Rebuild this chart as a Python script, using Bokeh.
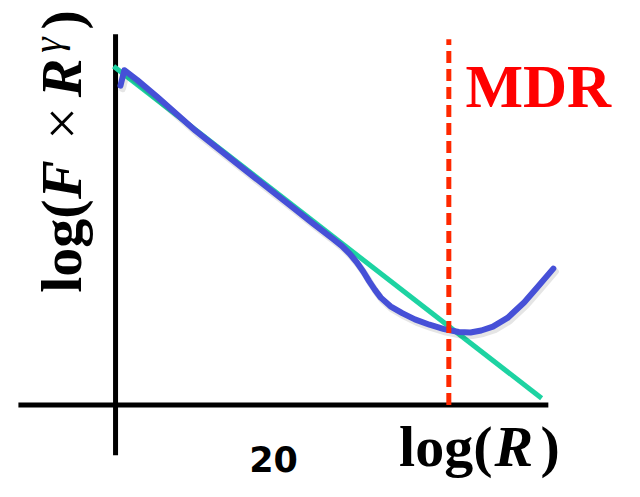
import numpy as np
from bokeh.plotting import figure
from bokeh.models import Range1d
from bokeh.core.properties import value
from bokeh.embed import file_html
from bokeh.resources import INLINE

# ---- data (x: log(R) units, y: log(F x R^gamma) units) ----
fit_x = [-0.25, 53.95]
fit_y = [35.0, 0.7]

curve_x = [0.62, 1.11, 2.72, 5.19, 10.12, 16.30, 22.47, 24.94, 27.41, 28.64,
           29.63, 30.49, 31.36, 32.10, 32.84, 33.58, 34.81, 36.30, 37.90,
           39.75, 41.60, 43.46, 44.94, 46.30, 47.78, 49.63, 51.73, 53.33, 55.43]
curve_y = [33.0, 34.6, 33.6, 31.9, 28.35, 24.35, 20.4, 18.8, 17.25, 16.45,
           15.65, 14.8, 13.8, 12.8, 11.9, 11.1, 10.2, 9.5, 8.85,
           8.3, 7.85, 7.55, 7.5, 7.7, 8.1, 9.0, 10.6, 12.1, 14.1]

mdr_x = 42.2
mdr_top = 37.8

xaxis_extent = [-12.3, 54.8]
yaxis_extent = [-5.2, 38.3]

tick_values = [20]
tick_labels = ["20"]

# ---- figure ----
W, H = 624, 481
x0, x1 = -14.568, 64.444
y0, y1 = -7.9, 41.8
kx = 640 / (x1 - x0)   # reference px per x unit
ky = 497 / (y1 - y0)   # reference px per y unit
sx = W / (x1 - x0)     # canvas px per x unit
sy = H / (y1 - y0)     # canvas px per y unit
BASE_FIX = 0.37        # baseline correction (em) for the svg text renderer

p = figure(width=W, height=H, x_range=Range1d(x0, x1), y_range=Range1d(y0, y1),
           output_backend="svg", toolbar_location=None, min_border=0)
p.axis.visible = False
p.grid.visible = False
p.outline_line_color = None
p.background_fill_color = "white"
p.border_fill_color = "white"

# axes as thick black lines
p.line(xaxis_extent, [0, 0], line_color="black", line_width=5)
p.line([0, 0], yaxis_extent, line_color="black", line_width=5)

# fit line
p.line(fit_x, fit_y, line_color="#1dd3a2", line_width=5)

# curve with soft shadow
p.line([v + 2 / sx for v in curve_x], [v - 3 / sy for v in curve_y],
       line_color="black", line_alpha=0.1, line_width=7, line_join="round", line_cap="round")
p.line(curve_x, curve_y, line_color="#4650d7", line_width=6, line_join="round", line_cap="round")

# MDR dashed line
p.line([mdr_x, mdr_x], [0, mdr_top], line_color="#ff2800", line_width=5, line_dash="12 6")

serif = value("Liberation Serif")


def htext(x, y, txt, size, style="bold", color="black", font=serif, align="left"):
    yy = y + BASE_FIX * size / sy
    p.text(x=[x], y=[yy], text=[txt], text_font=font, text_font_style=style,
           text_font_size=f"{size}px", text_color=color, text_align=align,
           text_baseline="alphabetic")


def vtext(x, y, txt, size, style="bold"):
    xx = x - BASE_FIX * size / sx
    p.text(x=[xx], y=[y], text=[txt], text_font=serif, text_font_style=style,
           text_font_size=f"{size}px", angle=np.pi / 2, text_align="left",
           text_baseline="alphabetic")


# MDR label
htext(mdr_x + 17 / kx, mdr_top - 72 / ky, "MDR", 61, color="#ff0000")

# tick label
for tv, tl in zip(tick_values, tick_labels):
    htext(tv, -6.9, tl, 35, font=value("DejaVu Sans"), align="center")

# x label log(R)
xl_x, xl_y = 35.9, -6.5
htext(xl_x, xl_y, "log(", 58)
htext(xl_x + 98 / kx, xl_y, "R", 58, style="bold italic")
htext(xl_x + 145 / kx, xl_y, ")", 58)

# y label log(F x R^gamma), rotated
yl_x, yl_y = -33 / kx, 11.6
pieces = [
    ("log(", 0, 0, "bold", 58),
    ("F", 97, 0, "bold italic", 58),
    ("\u00d7", 158, 0, "normal", 58),
    ("R", 202, 0, "bold italic", 58),
    ("\u03b3", 248, 22, "italic", 39),
    (")", 272, 0, "bold", 58),
]
for txt, off, up, style, size in pieces:
    vtext(yl_x - up / kx, yl_y + off / ky, txt, size, style)

open("out.html", "w").write(file_html(p, INLINE))
